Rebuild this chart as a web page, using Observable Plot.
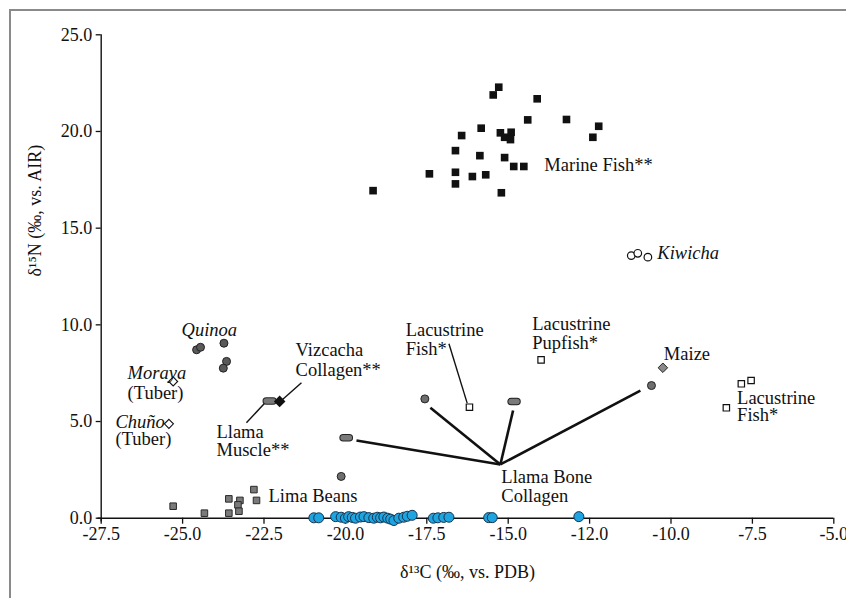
<!DOCTYPE html>
<html><head><meta charset="utf-8">
<script src="https://cdn.jsdelivr.net/npm/d3@7"></script>
<script src="https://cdn.jsdelivr.net/npm/@observablehq/plot@0.6"></script>
<style>
html,body{margin:0;padding:0;background:#fff;}
#wrap{position:relative;width:846px;height:598px;overflow:hidden;}
#frame{position:absolute;left:9px;top:9px;width:900px;height:700px;border:2px solid #8a8a8a;box-sizing:border-box;}
#chart{position:absolute;left:0;top:0;}
#chart svg, #chart svg text{font-family:"Liberation Serif", "Times New Roman", serif !important;}
</style></head><body>
<div id="wrap"><div id="frame"></div><div id="chart"></div></div>
<script>
// Axis ticks
const xTicks = [-27.5, -25, -22.5, -20, -17.5, -15, -12.5, -10, -7.5, -5];
const xTickLabels = ["-27.5", "-25.0", "-22.5", "-20.0", "-17.5", "-15.0", "-12.0", "-10.0", "-7.5", "-5.0"];
const yTicks = [0, 5, 10, 15, 20, 25];
const yTickLabels = ["0.0", "5.0", "10.0", "15.0", "20.0", "25.0"];

// Marine Fish** (black squares)
const marineC = [-15.29, -15.46, -14.11, -14.40, -13.21, -12.22, -12.40, -15.83, -16.43, -15.24, -14.91, -15.11, -14.93, -16.62, -15.87, -15.11, -14.83, -14.52, -17.42, -16.62, -16.62, -16.10, -15.69, -19.15, -15.21];
const marineN = [22.29, 21.89, 21.69, 20.60, 20.62, 20.27, 19.70, 20.17, 19.79, 19.93, 19.96, 19.70, 19.58, 19.01, 18.75, 18.65, 18.19, 18.19, 17.81, 17.89, 17.29, 17.67, 17.76, 16.94, 16.83];

// Quinoa (dark grey circles)
const quinoaC = [-24.57, -24.45, -23.73, -23.65, -23.75];
const quinoaN = [8.71, 8.84, 9.05, 8.11, 7.76];

// Tubers (open diamonds): Moraya, Chuño
const tuberC = [-25.29, -25.42];
const tuberN = [7.07, 4.88];

// Vizcacha Collagen** (black diamond)
const vizcachaC = [-22.02];
const vizcachaN = [6.04];

// Llama Muscle** (grey range bar)
const muscleC1 = [-22.43];
const muscleC2 = [-22.22];
const muscleN = [6.06];

// Lima Beans (grey squares)
const limaC = [-25.29, -24.33, -23.58, -23.58, -23.24, -23.30, -23.27, -22.81, -22.73];
const limaN = [0.62, 0.26, 0.26, 1.00, 0.92, 0.69, 0.36, 1.48, 0.92];

// Llama Bone Collagen (grey circles and range bars)
const boneC = [-20.13, -17.56, -10.60];
const boneN = [2.16, 6.17, 6.86];
const boneBarC1 = [-20.07, -14.91];
const boneBarC2 = [-19.88, -14.73];
const boneBarN = [4.16, 6.03];
// leader lines from the "Llama Bone Collagen" label
const boneHubC = -15.24, boneHubN = 2.78;
const boneLeadC = [-19.66, -17.39, -14.85, -10.94];
const boneLeadN = [4.02, 5.71, 5.57, 6.60];

// Maize (grey diamond)
const maizeC = [-10.25];
const maizeN = [7.78];

// Kiwicha (open circles)
const kiwichaC = [-11.22, -11.02, -10.71];
const kiwichaN = [13.58, 13.70, 13.50];

// Lacustrine fish / pupfish (open squares)
const lacC = [-16.19, -13.99, -7.84, -7.54, -8.30];
const lacN = [5.74, 8.19, 6.95, 7.12, 5.71];

// Blue circles along the axis
const blueC = [-20.97, -20.82, -20.30, -20.13, -20.00, -19.90, -19.79, -19.69, -19.54, -19.43, -19.28, -19.13, -19.02, -18.92, -18.82, -18.70, -18.61, -18.51, -18.36, -18.21, -18.10, -17.95, -17.30, -17.16, -16.98, -16.82, -15.60, -15.49, -12.83];
const blueN = [0.02, 0.02, 0.08, 0.05, 0.0, 0.08, 0.04, 0.0, 0.06, 0.08, 0.03, 0.0, 0.05, 0.02, 0.06, 0.0, -0.05, -0.12, 0.0, 0.05, 0.1, 0.15, 0.0, 0.02, 0.04, 0.05, 0.03, 0.03, 0.08];

// Thin leader lines (Vizcacha, Llama Muscle, Lacustrine Fish)
const leadC1 = [-21.93, -22.48, -16.82];
const leadN1 = [6.14, 5.94, 9.02];
const leadC2 = [-21.35, -23.04, -16.26];
const leadN2 = [7.00, 4.94, 5.95];

// Labels
const labelText = ["Marine Fish**", "Vizcacha", "Collagen**", "Llama", "Muscle**", "(Tuber)", "(Tuber)", "Lima Beans", "Lacustrine", "Fish*", "Lacustrine", "Pupfish*", "Maize", "Lacustrine", "Fish*", "Llama Bone", "Collagen"];
const labelC = [-13.89, -21.53, -21.53, -23.96, -23.96, -26.69, -27.06, -22.36, -18.15, -18.15, -14.26, -14.26, -10.22, -7.97, -7.97, -15.21, -15.21];
const labelN = [18.24, 8.67, 7.64, 4.43, 3.50, 6.46, 4.07, 1.12, 9.74, 8.76, 10.05, 9.07, 8.50, 6.20, 5.31, 2.12, 1.15];
const italicText = ["Kiwicha", "Quinoa", "Moraya", "Chuño"];
const italicC = [-10.42, -25.03, -26.69, -27.06];
const italicN = [13.69, 9.71, 7.53, 4.96];

const xTitle = "δ¹³C (‰, vs. PDB)";
const yTitle = "δ¹⁵N (‰, vs. AIR)";

const serif = "Liberation Serif, Times New Roman, serif";
const zip = (a, b) => a.map((v, i) => ({x: v, y: b[i]}));
const diamond = {
  draw(ctx, size) {
    const h = Math.sqrt(size) / Math.SQRT2;
    ctx.moveTo(0, -h); ctx.lineTo(h, 0); ctx.lineTo(0, h); ctx.lineTo(-h, 0); ctx.closePath();
  }
};
const ink = "#111";

const chart = Plot.plot({
  width: 846, height: 598,
  marginLeft: 100.7, marginRight: 12.7, marginTop: 34.3, marginBottom: 80.3,
  style: {fontFamily: serif, fontSize: "18px", color: ink, background: "transparent", overflow: "visible"},
  x: {domain: [-27.5, -5]},
  y: {domain: [0, 25]},
  marks: [
    Plot.axisX({ticks: xTicks, tickFormat: d => xTickLabels[xTicks.indexOf(d)], tickSize: 6, tickPadding: 3, label: null, fontSize: 18, fontFamily: serif, stroke: ink, strokeWidth: 1.3}),
    Plot.axisY({ticks: yTicks, tickFormat: d => yTickLabels[yTicks.indexOf(d)], tickSize: 5, tickPadding: 4, label: null, fontSize: 18, fontFamily: serif, stroke: ink, strokeWidth: 1.3}),
    Plot.ruleY([0], {x1: -27.6, x2: -5, stroke: ink, strokeWidth: 1.4}),
    Plot.ruleX([-27.5], {y1: -0.2, y2: 25, stroke: ink, strokeWidth: 1.4}),
    Plot.text([xTitle], {frameAnchor: "bottom", dy: 60, fontSize: 18, fontFamily: serif, fill: ink}),
    Plot.text([yTitle], {frameAnchor: "left", dx: -66, rotate: -90, fontSize: 18, fontFamily: serif, fill: ink}),
    // leader lines
    Plot.link(boneLeadC.map((c, i) => ({x1: boneHubC, y1: boneHubN, x2: c, y2: boneLeadN[i]})), {x1: "x1", y1: "y1", x2: "x2", y2: "y2", stroke: ink, strokeWidth: 2.6}),
    Plot.link(leadC1.map((c, i) => ({x1: c, y1: leadN1[i], x2: leadC2[i], y2: leadN2[i]})), {x1: "x1", y1: "y1", x2: "x2", y2: "y2", stroke: ink, strokeWidth: 1.4}),
    // Marine fish
    Plot.dot(zip(marineC, marineN), {x: "x", y: "y", symbol: "square", r: 4.3, fill: ink, stroke: "none"}),
    // Quinoa
    Plot.dot(zip(quinoaC, quinoaN), {x: "x", y: "y", r: 4, fill: "#5a5a5a", stroke: "#222", strokeWidth: 1}),
    // tubers
    Plot.dot(zip(tuberC, tuberN), {x: "x", y: "y", symbol: diamond, r: 3.6, fill: "white", stroke: ink, strokeWidth: 1.1}),
    // Llama muscle bar
    Plot.link(muscleC1.map((c, i) => ({x1: c, x2: muscleC2[i], y: muscleN[i]})), {x1: "x1", x2: "x2", y1: "y", y2: "y", stroke: "#222", strokeWidth: 7.5, strokeLinecap: "round"}),
    Plot.link(muscleC1.map((c, i) => ({x1: c, x2: muscleC2[i], y: muscleN[i]})), {x1: "x1", x2: "x2", y1: "y", y2: "y", stroke: "#7a7a7a", strokeWidth: 5.5, strokeLinecap: "round"}),
    // Vizcacha
    Plot.dot(zip(vizcachaC, vizcachaN), {x: "x", y: "y", symbol: diamond, r: 3.8, fill: ink, stroke: ink}),
    // Lima beans
    Plot.dot(zip(limaC, limaN), {x: "x", y: "y", symbol: "square", r: 3.7, fill: "#7a7a7a", stroke: "#2a2a2a", strokeWidth: 1}),
    // Bone collagen bars
    Plot.link(boneBarC1.map((c, i) => ({x1: c, x2: boneBarC2[i], y: boneBarN[i]})), {x1: "x1", x2: "x2", y1: "y", y2: "y", stroke: "#222", strokeWidth: 7.5, strokeLinecap: "round"}),
    Plot.link(boneBarC1.map((c, i) => ({x1: c, x2: boneBarC2[i], y: boneBarN[i]})), {x1: "x1", x2: "x2", y1: "y", y2: "y", stroke: "#7a7a7a", strokeWidth: 5.5, strokeLinecap: "round"}),
    // Bone collagen circles
    Plot.dot(zip(boneC, boneN), {x: "x", y: "y", r: 4, fill: "#6e6e6e", stroke: "#222", strokeWidth: 1}),
    // Maize
    Plot.dot(zip(maizeC, maizeN), {x: "x", y: "y", symbol: diamond, r: 3.8, fill: "#8a8a8a", stroke: "#222", strokeWidth: 1}),
    // Kiwicha
    Plot.dot(zip(kiwichaC, kiwichaN), {x: "x", y: "y", r: 3.8, fill: "white", stroke: ink, strokeWidth: 1.2}),
    // Lacustrine
    Plot.dot(zip(lacC, lacN), {x: "x", y: "y", symbol: "square", r: 3.6, fill: "white", stroke: ink, strokeWidth: 1.2}),
    // Blue circles
    Plot.dot(zip(blueC, blueN), {x: "x", y: "y", r: 5, fill: "#1ea5e0", stroke: "#16324f", strokeWidth: 1}),
    // Labels
    Plot.text(labelText.map((t, i) => ({t, x: labelC[i], y: labelN[i]})), {x: "x", y: "y", text: "t", textAnchor: "start", fontSize: 18.5, fontFamily: serif, fill: ink}),
    Plot.text(italicText.map((t, i) => ({t, x: italicC[i], y: italicN[i]})), {x: "x", y: "y", text: "t", textAnchor: "start", fontSize: 18.5, fontFamily: serif, fontStyle: "italic", fill: ink})
  ]
});
document.getElementById("chart").appendChild(chart);
</script>
</body></html>
